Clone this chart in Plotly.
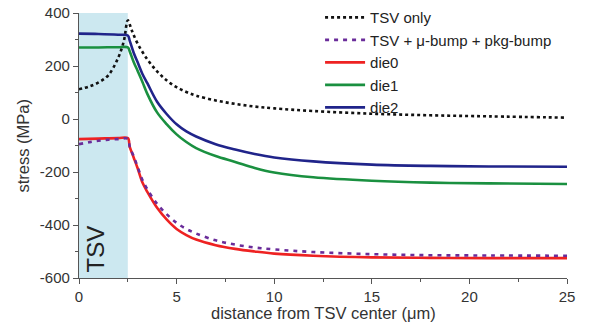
import plotly.graph_objects as go

# ---- data ----
tsv_x = [0, 0.5, 1, 1.5, 2, 2.3, 2.5, 2.7, 3, 3.5, 4, 4.5, 5, 5.5, 6, 7, 8, 9, 10, 12, 15, 18, 21, 25]
tsv_y = [112, 122, 138, 165, 230, 295, 372, 335, 285, 225, 180, 145, 120, 102, 88, 70, 57, 47, 40, 30, 20, 14, 10, 5]

die_x = [0, 1, 2, 2.5, 2.6, 2.8, 3, 3.25, 3.5, 4, 4.5, 5, 5.5, 6, 7, 8, 9, 10, 12, 15, 18, 21, 25]
die0_y = [-76, -74, -72, -72, -105, -145, -185, -240, -275, -335, -380, -415, -438, -455, -476, -490, -500, -508, -516, -522, -524, -525, -525]
die1_y = [270, 270, 271, 270, 255, 215, 182, 140, 95, 25, -20, -58, -87, -110, -140, -162, -185, -202, -220, -233, -240, -243, -245]
die2_y = [322, 321, 318, 315, 295, 250, 215, 170, 135, 65, 18, -20, -47, -66, -95, -115, -132, -145, -160, -172, -177, -179, -180]

bump_x = [0, 0.5, 1, 1.5, 2, 2.5, 2.6, 2.8, 3, 3.25, 3.5, 4, 4.5, 5, 5.5, 6, 7, 8, 9, 10, 12, 15, 18, 21, 25]
bump_y = [-95, -88, -82, -78, -76, -75, -105, -140, -180, -230, -265, -320, -360, -392, -415, -432, -458, -474, -485, -492, -502, -510, -514, -515, -516]

x_ticks = [0, 5, 10, 15, 20, 25]
y_ticks = [-600, -400, -200, 0, 200, 400]
y_tick_labels = ["-600", "-400", "-200", "0", "200", "400"]

tsv_region = [0, 2.5]
y_range = [-600, 400]
x_range = [0, 25]

FONT = "Liberation Sans, Arial, sans-serif"
LW = 2.6
SM = 1.0

fig = go.Figure()

# TSV shaded region
fig.add_shape(type="rect", xref="x", yref="y",
              x0=tsv_region[0], x1=tsv_region[1], y0=y_range[0], y1=y_range[1],
              fillcolor="#cce8f0", line_width=0, layer="below")

fig.add_trace(go.Scatter(x=tsv_x, y=tsv_y, mode="lines", name="TSV only", legendrank=1,
                         line=dict(color="#111111", width=LW, dash="dot", shape="spline", smoothing=SM)))
fig.add_trace(go.Scatter(x=die_x, y=die0_y, mode="lines", name="die0", legendrank=3,
                         line=dict(color="#ee2222", width=LW, shape="spline", smoothing=SM)))
fig.add_trace(go.Scatter(x=bump_x, y=bump_y, mode="lines", name="TSV + μ-bump + pkg-bump", legendrank=2,
                         line=dict(color="#6a2c9a", width=LW, dash="4px,5px", shape="spline", smoothing=SM)))
fig.add_trace(go.Scatter(x=die_x, y=die1_y, mode="lines", name="die1", legendrank=4,
                         line=dict(color="#1a9040", width=LW, shape="spline", smoothing=SM)))
fig.add_trace(go.Scatter(x=die_x, y=die2_y, mode="lines", name="die2", legendrank=5,
                         line=dict(color="#20248a", width=LW, shape="spline", smoothing=SM)))

fig.add_annotation(x=0.85, y=-490, xref="x", yref="y", text="TSV", textangle=-90,
                   showarrow=False, font=dict(family=FONT, size=24, color="#222222"))

# axis titles as annotations for precise placement
fig.add_annotation(x=0, y=0.5, xref="paper", yref="paper", xanchor="center", yanchor="middle",
                   xshift=-57, text="stress (MPa)", textangle=-90, showarrow=False,
                   font=dict(family=FONT, size=16.5, color="#333333"))
fig.add_annotation(x=0.5, y=0, xref="paper", yref="paper", xanchor="center", yanchor="middle",
                   yshift=-35, text="distance from TSV center (μm)", showarrow=False,
                   font=dict(family=FONT, size=16.5, color="#333333"))

axis_common = dict(showgrid=False, zeroline=False, showline=True, linecolor="#555555",
                   linewidth=1.2, ticks="outside", ticklen=5, tickcolor="#555555",
                   tickfont=dict(family=FONT, size=15, color="#333333"), mirror=False)

fig.update_xaxes(range=x_range, tickvals=x_ticks,
                 minor=dict(dtick=2.5, tick0=0, ticks="outside", ticklen=3, tickcolor="#555555"),
                 **axis_common)
fig.update_yaxes(range=y_range, tickvals=y_ticks, ticktext=y_tick_labels,
                 minor=dict(dtick=100, tick0=0, ticks="outside", ticklen=3, tickcolor="#555555"),
                 **axis_common)

fig.update_layout(
    width=598, height=323,
    margin=dict(l=79, r=31, t=13, b=45, autoexpand=False),
    plot_bgcolor="white", paper_bgcolor="white",
    showlegend=True,
    legend=dict(x=0.494, y=1.045, xanchor="left", yanchor="top", bgcolor="rgba(0,0,0,0)",
                font=dict(family=FONT, size=15, color="#222222"), tracegroupgap=0,
                itemwidth=40, traceorder="normal"),
)

fig.write_html("out.html")
